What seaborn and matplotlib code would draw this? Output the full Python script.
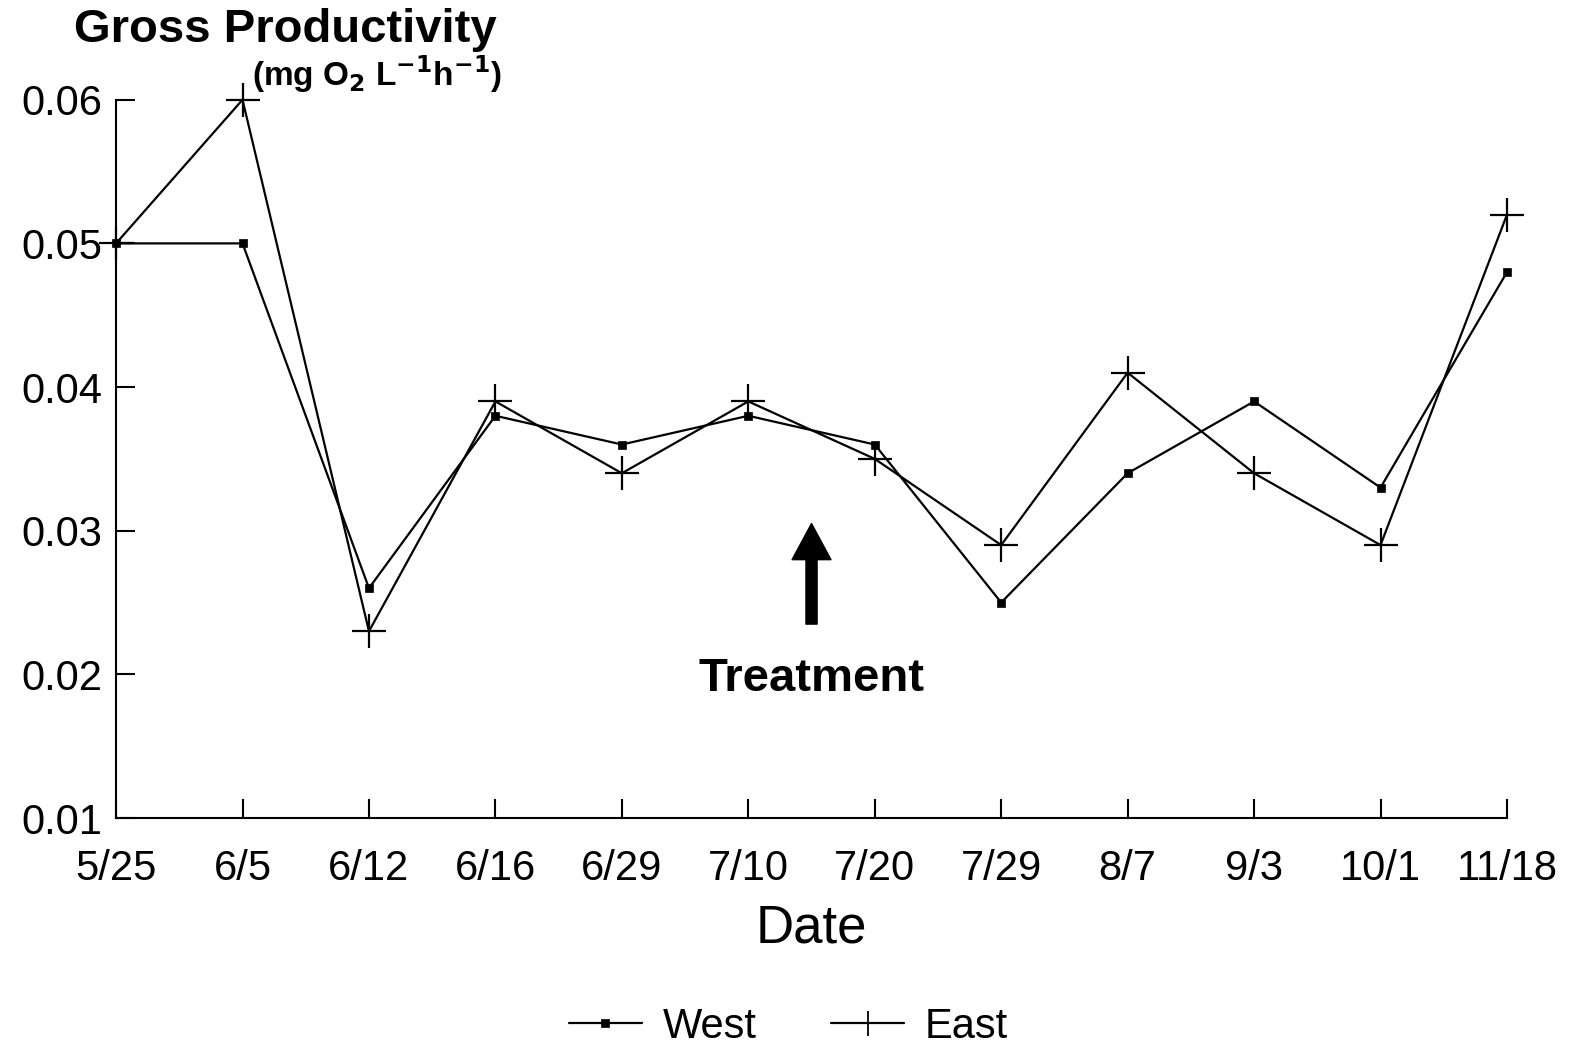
import numpy as np
import pandas as pd
import seaborn as sns
from matplotlib import pyplot as plt

dates = ['5/25', '6/5', '6/12', '6/16', '6/29', '7/10', '7/20',
         '7/29', '8/7', '9/3', '10/1', '11/18']
west = [0.050, 0.050, 0.026, 0.038, 0.036, 0.038, 0.036,
        0.025, 0.034, 0.039, 0.033, 0.048]
east = [0.050, 0.060, 0.023, 0.039, 0.034, 0.039, 0.035,
        0.029, 0.041, 0.034, 0.029, 0.052]
y_ticks = [0.01, 0.02, 0.03, 0.04, 0.05, 0.06]


def main():
    sns.set_style('ticks')
    plt.rcParams['font.family'] = ['Liberation Sans', 'DejaVu Sans']
    plt.rcParams['text.color'] = 'black'
    plt.rcParams['axes.labelcolor'] = 'black'

    pos = np.arange(len(dates))
    df = pd.DataFrame({'pos': pos, 'West': west, 'East': east})

    fig = plt.figure(figsize=(15.77, 10.61), dpi=100)
    ax = fig.add_axes([0.0736, 0.229, 0.882, 0.677])

    sns.lineplot(data=df, x='pos', y='West', ax=ax, color='black', lw=1.6,
                 marker='s', markersize=6, markeredgecolor='black',
                 markeredgewidth=0.5, label='West', clip_on=False)
    sns.lineplot(data=df, x='pos', y='East', ax=ax, color='black', lw=1.6,
                 marker='+', markersize=24, markeredgecolor='black',
                 markeredgewidth=1.6, label='East', clip_on=False)

    ax.set_xlim(0, len(dates) - 1)
    ax.set_ylim(0.01, 0.06)
    ax.set_xticks(pos)
    ax.set_xticklabels(dates)
    ax.set_yticks(y_ticks)
    ax.set_yticklabels([f'{v:.2f}' for v in y_ticks])
    ax.tick_params(direction='in', length=14, width=1.5, labelsize=30, pad=10,
                   colors='black')
    ax.tick_params(axis='x', pad=22)
    for s in ['top', 'right']:
        ax.spines[s].set_visible(False)
    for s in ['left', 'bottom']:
        ax.spines[s].set_linewidth(1.5)
        ax.spines[s].set_color('black')

    ax.set_xlabel('Date', fontsize=38, labelpad=11)
    ax.set_ylabel('')

    # treatment marker between 7/10 and 7/20
    ax.annotate('', xy=(5.5, 0.0305), xytext=(5.5, 0.0235),
                arrowprops=dict(facecolor='black', edgecolor='black',
                                width=8, headwidth=28, headlength=26))
    ax.text(5.5, 0.0197, 'Treatment', ha='center', va='center',
            fontsize=34, fontweight='bold')

    fig.text(0.047, 0.972, 'Gross Productivity', fontsize=34,
             fontweight='bold', va='center', ha='left')
    fig.text(0.318, 0.930,
             r'(mg O$_\mathbf{2}$ L$^\mathbf{-1}$h$^\mathbf{-1}$)',
             fontsize=24, fontweight='bold', va='center', ha='right')

    ax.get_legend().remove()
    handles, labels = ax.get_legend_handles_labels()
    leg = fig.legend(handles, labels, loc='lower center', ncol=2,
                     frameon=False, fontsize=30, bbox_to_anchor=(0.5, -0.022),
                     handlelength=1.75, handletextpad=0.5, columnspacing=1.8)
    leg.legend_handles[1].set_markersize(18)
    leg.legend_handles[1].set_markeredgewidth(1.3)

    fig.savefig('out.png', dpi=100)


if __name__ == "__main__":
    main()
